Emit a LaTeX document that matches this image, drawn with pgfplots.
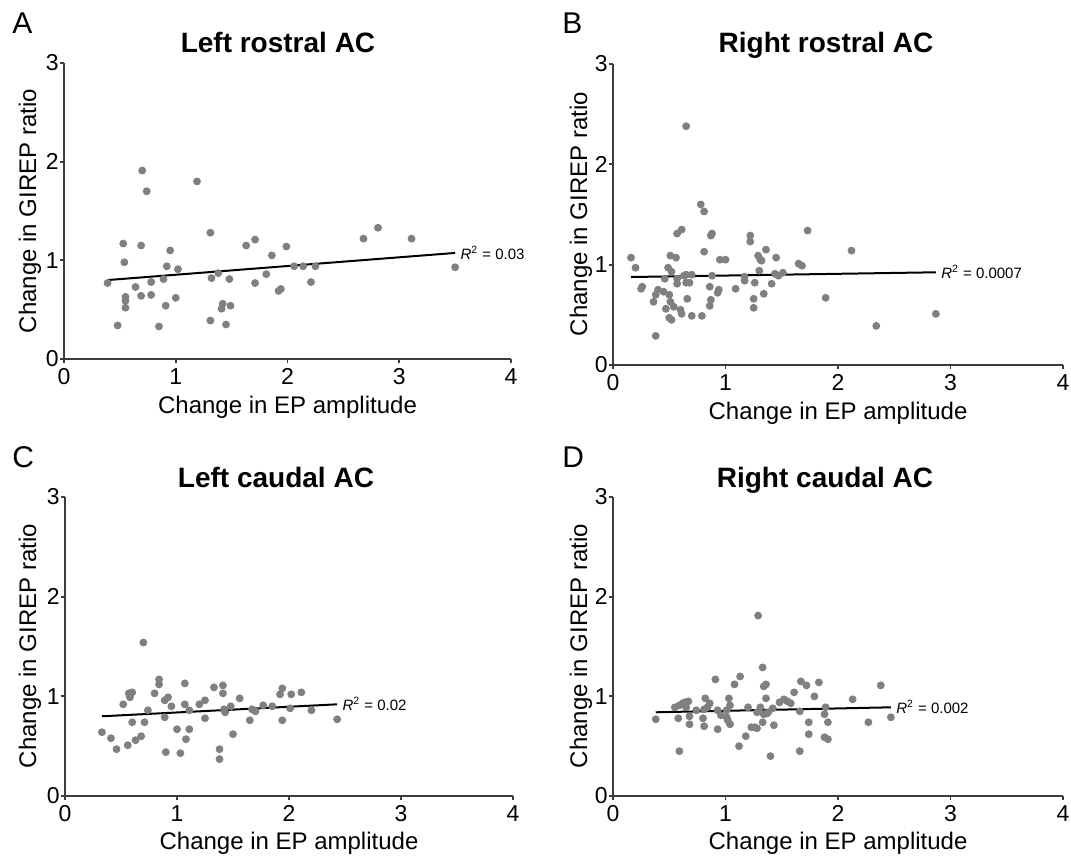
\documentclass[border=0pt]{standalone}
\usepackage{fontspec}
\setmainfont{Liberation Sans}
\usepackage{pgfplots}
\pgfplotsset{compat=1.18}

\definecolor{dotgray}{RGB}{128,128,128}
\definecolor{axgray}{RGB}{60,60,60}

\pgfplotsset{
  panel/.style={
    scale only axis,
    anchor=origin,
    axis lines=left,
    axis line style={-, axgray, line width=0.9pt},
    tick style={axgray, line width=0.9pt},
    tick align=outside,
    major tick length=2pt,
    xmin=0, xmax=4, ymin=0, ymax=3,
    xtick={0,1,2,3,4}, ytick={0,1,2,3},
    tick label style={font=\fontsize{11.5}{13}\selectfont},
    yticklabel style={inner sep=0.5pt},
    xticklabel style={inner sep=2.5pt},
    /pgf/number format/assume math mode=true,
    clip=false,
  },
  dots/.style={only marks, mark=*, mark size=1.75pt, color=dotgray, mark options={draw=dotgray, fill=dotgray}},
  fit/.style={black, line width=1pt, no marks},
}
\newcommand{\rsq}[1]{\fontsize{7.5}{9}\selectfont\textit{R}\textsuperscript{2} = #1}

\begin{document}
\begin{tikzpicture}
\path[use as bounding box] (0,0) rectangle (535.5pt,-431pt);

% A: left rostral
\begin{axis}[panel, at={(32pt,-179.5pt)}, width=223.5pt, height=148pt]
\addplot[dots] table {
0.39 0.77
0.48 0.34
0.53 1.17
0.54 0.98
0.55 0.63
0.55 0.59
0.55 0.52
0.64 0.73
0.69 0.64
0.69 1.15
0.70 1.91
0.74 1.70
0.78 0.78
0.78 0.65
0.85 0.33
0.89 0.81
0.91 0.54
0.92 0.94
0.95 1.10
1.00 0.62
1.02 0.91
1.19 1.80
1.31 0.39
1.31 1.28
1.32 0.82
1.38 0.87
1.41 0.51
1.42 0.56
1.45 0.35
1.48 0.81
1.49 0.54
1.63 1.15
1.71 1.21
1.71 0.77
1.81 0.86
1.86 1.05
1.92 0.69
1.94 0.71
1.99 1.14
2.06 0.94
2.14 0.94
2.21 0.78
2.25 0.94
2.68 1.22
2.81 1.33
3.11 1.22
3.50 0.93
};
\addplot[fit] coordinates {(0.39,0.80) (3.50,1.075)};
\node[anchor=west, inner sep=0pt, xshift=2.5pt] at (axis cs:3.50,1.075) {\rsq{0.03}};
\end{axis}

% B: right rostral
\begin{axis}[panel, at={(306.5pt,-182.5pt)}, width=225pt, height=150.5pt]
\addplot[dots] table {
0.16 1.07
0.20 0.97
0.25 0.76
0.26 0.78
0.65 2.38
0.78 1.60
0.81 1.53
0.57 1.31
0.61 1.35
0.88 1.31
0.87 1.29
1.22 1.29
1.22 1.23
1.73 1.34
2.12 1.14
0.81 1.13
0.51 1.09
0.56 1.07
0.95 1.05
1.00 1.05
1.29 1.09
1.31 1.05
1.32 1.04
1.36 1.15
1.45 1.07
1.65 1.01
1.68 0.99
0.49 0.97
0.52 0.93
0.46 0.86
0.57 0.86
0.57 0.81
0.63 0.89
0.65 0.90
0.70 0.90
0.65 0.82
0.68 0.82
0.88 0.89
0.86 0.78
0.94 0.75
0.93 0.72
1.09 0.76
1.17 0.88
1.17 0.84
1.26 0.82
1.30 0.94
1.34 0.71
1.41 0.81
1.44 0.91
1.47 0.89
1.51 0.92
0.38 0.70
0.40 0.75
0.45 0.73
0.50 0.70
0.36 0.63
0.51 0.63
0.54 0.58
0.47 0.56
0.60 0.55
0.61 0.51
0.50 0.47
0.52 0.45
0.66 0.66
0.70 0.49
0.79 0.49
0.87 0.65
0.86 0.59
1.25 0.66
1.25 0.57
1.89 0.67
2.34 0.39
2.87 0.51
0.38 0.29
};
\addplot[fit] coordinates {(0.16,0.877) (2.87,0.924)};
\node[anchor=west, inner sep=0pt, xshift=2.5pt] at (axis cs:2.87,0.924) {\rsq{0.0007}};
\end{axis}

% C: left caudal
\begin{axis}[panel, at={(32.5pt,-398pt)}, width=224pt, height=149.5pt]
\addplot[dots] table {
0.33 0.64
0.41 0.58
0.46 0.47
0.52 0.92
0.56 0.51
0.57 1.03
0.60 1.04
0.58 0.99
0.60 0.74
0.63 0.56
0.68 0.60
0.70 1.54
0.71 0.74
0.74 0.86
0.80 1.03
0.84 1.17
0.84 1.12
0.89 0.79
0.89 0.96
0.92 0.99
0.90 0.44
0.95 0.90
1.00 0.67
1.03 0.43
1.07 1.13
1.07 0.92
1.08 0.57
1.11 0.67
1.11 0.86
1.20 0.92
1.25 0.96
1.25 0.78
1.33 1.09
1.38 0.47
1.38 0.37
1.41 1.11
1.41 1.03
1.42 0.87
1.43 0.84
1.48 0.90
1.50 0.62
1.56 0.98
1.65 0.76
1.67 0.87
1.70 0.85
1.77 0.91
1.85 0.90
1.92 1.02
1.94 1.08
1.94 0.76
2.01 0.88
2.02 1.02
2.11 1.04
2.20 0.86
2.43 0.77
};
\addplot[fit] coordinates {(0.33,0.80) (2.43,0.92)};
\node[anchor=west, inner sep=0pt, xshift=2.5pt] at (axis cs:2.43,0.92) {\rsq{0.02}};
\end{axis}

% D: right caudal
\begin{axis}[panel, at={(306.5pt,-398pt)}, width=225pt, height=149.5pt]
\addplot[dots] table {
0.38 0.77
0.55 0.89
0.58 0.78
0.59 0.45
0.59 0.91
0.62 0.93
0.64 0.94
0.67 0.95
0.65 0.89
0.68 0.80
0.68 0.72
0.74 0.86
0.80 0.78
0.81 0.87
0.82 0.98
0.81 0.70
0.86 0.93
0.84 0.89
0.91 1.17
0.93 0.86
0.93 0.67
0.96 0.81
1.01 0.79
1.01 0.86
1.02 0.76
1.03 0.98
1.04 0.91
1.04 0.72
1.08 1.12
1.13 1.20
1.12 0.50
1.18 0.60
1.20 0.89
1.23 0.69
1.26 0.69
1.28 0.68
1.28 0.84
1.29 1.81
1.31 0.89
1.33 1.29
1.33 0.74
1.34 1.10
1.36 1.12
1.34 0.82
1.36 0.98
1.37 0.83
1.38 0.84
1.40 0.40
1.42 0.88
1.43 0.71
1.48 0.94
1.52 0.97
1.55 0.95
1.58 0.93
1.61 1.04
1.66 0.85
1.66 0.45
1.67 1.15
1.72 1.11
1.74 0.74
1.74 0.62
1.79 1.00
1.83 1.14
1.88 0.82
1.89 0.89
1.91 0.74
1.88 0.59
1.91 0.57
2.13 0.97
2.27 0.74
2.38 1.11
2.47 0.79
};
\addplot[fit] coordinates {(0.38,0.84) (2.47,0.89)};
\node[anchor=west, inner sep=0pt, xshift=2.5pt] at (axis cs:2.47,0.89) {\rsq{0.002}};
\end{axis}

% labels, placed in image pixels (1px = 0.5pt, y down)
\begin{scope}[x=0.5pt, y=-0.5pt]
\foreach \l/\x/\y in {A/12/33, B/562/33, C/12/467, D/562/467}
  \node[anchor=base west, inner sep=0pt, font=\fontsize{15}{18}\selectfont] at (\x,\y) {\l};
\node[anchor=base, inner sep=0pt, font=\fontsize{14}{17}\selectfont\bfseries] at (278,53) {Left rostral AC};
\node[anchor=base, inner sep=0pt, font=\fontsize{14}{17}\selectfont\bfseries] at (826,53) {Right rostral AC};
\node[anchor=base, inner sep=0pt, font=\fontsize{14}{17}\selectfont\bfseries] at (276,487) {Left caudal AC};
\node[anchor=base, inner sep=0pt, font=\fontsize{14}{17}\selectfont\bfseries] at (825,487) {Right caudal AC};
\foreach \x/\y in {30/211, 581/214, 30/646, 581/646}
  \node[rotate=90, inner sep=0pt, font=\fontsize{12}{14}\selectfont] at (\x,\y) {Change in GIREP ratio};
\foreach \x/\y in {287.5/413, 838/419, 289/849, 838/849}
  \node[anchor=base, inner sep=0pt, font=\fontsize{12}{14}\selectfont] at (\x,\y) {Change in EP amplitude};
\end{scope}
\end{tikzpicture}
\end{document}
